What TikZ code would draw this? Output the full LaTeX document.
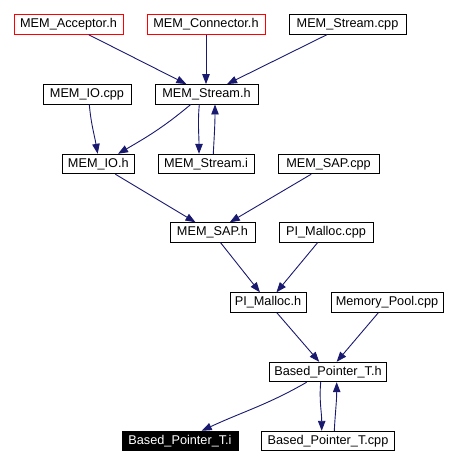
\documentclass[tikz,border=0pt]{standalone}
\usepackage{fontspec}
\setmainfont{Liberation Sans}
\usetikzlibrary{arrows.meta}
\definecolor{edgeblue}{HTML}{191970}
\tikzset{
  fbox/.style={draw=black, line width=0.9pt, rectangle, inner sep=0pt, minimum height=19.5pt, font=\fontsize{12.7}{14}\selectfont, text=black, fill=white},
  redbox/.style={fbox, draw=red},
  darkbox/.style={fbox, fill=black, text=white},
  dep/.style={draw=edgeblue, line width=0.9pt, -{Triangle[length=10pt,width=7.5pt]}, fill=none}
}
\begin{document}
\begin{tikzpicture}[x=1pt,y=-1pt]
\useasboundingbox (0,0) rectangle (457,465);
\node[redbox, minimum width=109pt] (acc) at (68.5,24.5) {MEM\_Acceptor.h};
\node[redbox, minimum width=118pt] (con) at (206,24.5) {MEM\_Connector.h};
\node[fbox, minimum width=117pt] (scpp) at (347.5,24.5) {MEM\_Stream.cpp};
\node[fbox, minimum width=88pt] (iocpp) at (87,94.3) {MEM\_IO.cpp};
\node[fbox, minimum width=103pt] (sh) at (206.5,94.3) {MEM\_Stream.h};
\node[fbox, minimum width=72pt] (ioh) at (98.3,164) {MEM\_IO.h};
\node[fbox, minimum width=96pt] (si) at (206,164) {MEM\_Stream.i};
\node[fbox, minimum width=101pt] (sapcpp) at (328.5,164) {MEM\_SAP.cpp};
\node[fbox, minimum width=85pt] (saph) at (212.5,232.5) {MEM\_SAP.h};
\node[fbox, minimum width=94pt] (pmcpp) at (326,232.5) {PI\_Malloc.cpp};
\node[fbox, minimum width=76pt] (pmh) at (268,302.5) {PI\_Malloc.h};
\node[fbox, minimum width=112pt] (mpcpp) at (387,302.5) {Memory\_Pool.cpp};
\node[fbox, minimum width=117pt] (bph) at (328,372) {Based\_Pointer\_T.h};
\node[darkbox, minimum width=116pt] (bpi) at (180,441) {Based\_Pointer\_T.i};
\node[fbox, minimum width=133pt] (bpcpp) at (328,441) {Based\_Pointer\_T.cpp};

\draw[dep] (acc) -- (sh);
\draw[dep] (con.south) -- (con.south |- sh.north);
\draw[dep] (scpp) -- (sh);
\draw[dep] ([xshift=2.3pt]iocpp.south) to[out=-85,in=100] ([xshift=-0.6pt]ioh.north);
\draw[dep] ([xshift=-15.8pt]sh.south) to[out=-140,in=30] ([xshift=19.7pt]ioh.north);
\draw[dep] ([xshift=-7.2pt]sh.south) to[out=-95,in=90] ([xshift=-7pt]si.north);
\draw[dep] ([xshift=7.3pt]si.north) to[out=87,in=-90] ([xshift=8.5pt]sh.south);
\draw[dep] (ioh) -- (saph);
\draw[dep] (sapcpp) -- (saph);
\draw[dep] (saph) -- (pmh);
\draw[dep] (pmcpp) -- (pmh);
\draw[dep] (pmh) -- (bph);
\draw[dep] (mpcpp) -- (bph);
\draw[dep] ([xshift=-21.3pt]bph.south) to[out=-150,in=25] ([xshift=21.7pt]bpi.north);
\draw[dep] ([xshift=-7.3pt]bph.south) to[out=-95,in=90] ([xshift=-6.3pt]bpcpp.north);
\draw[dep] ([xshift=6.3pt]bpcpp.north) to[out=87,in=-90] ([xshift=8.7pt]bph.south);
\end{tikzpicture}
\end{document}
